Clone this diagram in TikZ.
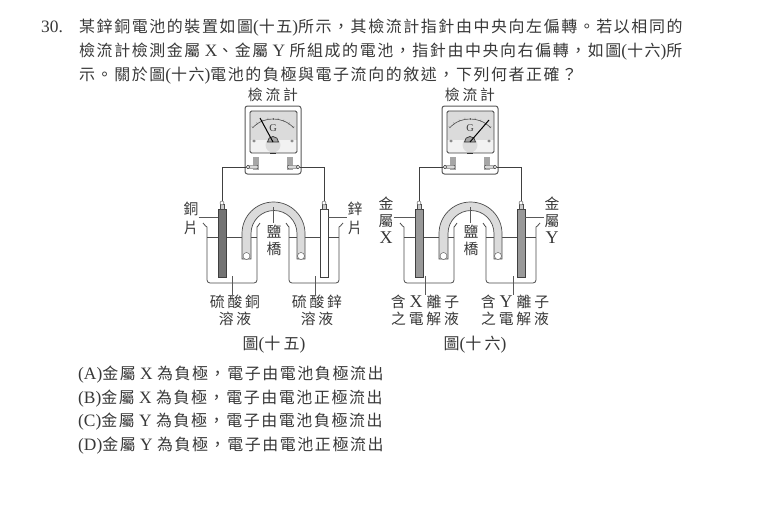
\documentclass[tikz,border=0pt]{standalone}
\usepackage{fontspec}
\usetikzlibrary{calc}
\setmainfont{Liberation Serif}[Scale=1.09]
\newfontfamily\cjf[LetterSpace=10]{Noto Sans CJK TC}
\newfontfamily\cjw[LetterSpace=19]{Noto Sans CJK TC}
\newcommand\cj[1]{{\cjf #1}}
\newcommand\cl[1]{{\cjw #1}}
\newcommand\biglat[1]{{\fontsize{16.5}{18}\selectfont #1}}
\colorlet{ink}{black!78}
\tikzset{
  x=1pt,y=1pt,
  line/.style={inner sep=0,anchor=base west,text=ink,font=\fontsize{15.95}{20}\selectfont},
  lab/.style={inner sep=0,text=ink,font=\fontsize{14.8}{18}\selectfont,align=center},
  wire/.style={draw=black!75,line width=.8pt},
  lead/.style={draw=black!65,line width=.6pt},
  glass/.style={draw=black!70,line width=.8pt},
  plate/.style={draw=black!75,line width=.8pt},
  tube/.style={draw=black!70,line width=.7pt,fill=black!14},
}
% #1 prefix, #2 xshift, #3 needle tip, #4 left plate fill, #5 right plate fill
\newcommand\apparatus[5]{%
\begin{scope}[xshift=#2pt]
  % beakers
  \draw[glass,rounded corners=3pt] (203,-223) to[out=-60,in=90] (207,-230) -- (207,-283) -- (257,-283) -- (257,-230) to[out=90,in=-120] (260,-223);
  \draw[glass,rounded corners=3pt] (286,-223) to[out=-60,in=90] (289,-230) -- (289,-283) -- (339,-283) -- (339,-230) to[out=90,in=-120] (343,-223);
  \draw[glass] (207,-237) -- (257,-237);
  \draw[glass] (289,-237) -- (339,-237);
  % plates
  \node[plate,fill=#4,minimum width=8pt,minimum height=68pt,inner sep=0,anchor=north] (#1pl) at (222,-209) {};
  \node[plate,fill=#5,minimum width=8pt,minimum height=68pt,inner sep=0,anchor=north] (#1pr) at (324,-209) {};
  \node[draw=black!70,fill=black!20,minimum width=4pt,minimum height=5pt,inner sep=0,anchor=south] (#1cl) at (222,-209) {};
  \node[draw=black!70,fill=black!20,minimum width=4pt,minimum height=5pt,inner sep=0,anchor=south] (#1cr) at (324,-209) {};
  \node[circle,draw=black!70,fill=white,minimum size=4pt,inner sep=0] (#1tl) at (222,-203) {};
  \node[circle,draw=black!70,fill=white,minimum size=4pt,inner sep=0] (#1tr) at (324,-203) {};
  % salt bridge
  \draw[tube] (242,-259) -- (242,-233.5) arc[start angle=180,end angle=0,radius=31.5] -- (305,-259) -- (297,-259) -- (297,-233.5) arc[start angle=0,end angle=180,radius=23] -- (251,-259) -- cycle;
  \node[circle,draw=black!70,fill=white,minimum size=7pt,inner sep=0] (#1bl) at (246.5,-256) {};
  \node[circle,draw=black!70,fill=white,minimum size=7pt,inner sep=0] (#1br) at (301,-256) {};
  % galvanometer
  \draw[draw=black!65,fill=white,line width=1pt,rounded corners=2.5pt] (245,-106) rectangle (301,-174);
  \fill[black!14] (250,-111) rectangle (297,-140);
  \fill[black!5] (250,-140) rectangle (297,-153);
  \fill[black!14] (273,-145) circle (7.5);
  \draw[draw=black!75,line width=.8pt,rounded corners=1.5pt] (250,-111) rectangle (297,-153);
  \draw[black!70,line width=.6pt] (252.5,-128) .. controls (259,-121) and (266,-119) .. (273,-119) .. controls (280,-119) and (287,-121) .. (294,-128);
  \foreach \a in {44,56,68,80,90,100,112,124,136}
    \draw[black!60,line width=.4pt] ($(273,-147)+(\a:27.5)$) -- ($(273,-147)+(\a:29.5)$);
  \fill[black!45] (254,-141) ellipse (1.8 and 1.5);
  \fill[black!45] (292,-141) ellipse (1.8 and 1.5);
  \draw[black!80,fill=black!35,line width=.7pt] (267.5,-142) arc[start angle=180,end angle=0,radius=5.5] -- cycle;
  \draw[black,line width=1pt] (273,-142) -- (#3);
  \node[inner sep=0,text=ink,font=\fontsize{9.5}{10}\selectfont] (#1g) at (273,-128) {G};
  \draw[black!80,line width=1pt] (270,-153) -- (276,-153);
  % terminals
  \fill[black!35] (253,-157) rectangle (259,-170);
  \fill[black!35] (287,-157) rectangle (293,-170);
  \node[draw=black!75,fill=black!15,rounded corners=1pt,minimum width=11pt,minimum height=3.5pt,inner sep=0] (#1ll) at (252.5,-167) {};
  \node[draw=black!75,fill=black!15,rounded corners=1pt,minimum width=11pt,minimum height=3.5pt,inner sep=0] (#1lr) at (293,-167) {};
  \node[circle,draw=black!75,fill=white,minimum size=3.5pt,inner sep=0] (#1ol) at (248,-167) {};
  \node[circle,draw=black!75,fill=white,minimum size=3.5pt,inner sep=0] (#1or) at (298,-167) {};
  % wires
  \draw[wire] (#1ol.west) -| (#1tl.north);
  \draw[wire] (#1or.east) -| (#1tr.north);
  % bridge leader
  \coordinate (#1lt) at (273.5,-207);
  \coordinate (#1lb) at (273.5,-223);
  \draw[lead] (#1lt) -- (#1lb);
\end{scope}}
\begin{document}
\begin{tikzpicture}
\useasboundingbox (0,0) rectangle (760,-514);
\fill[white] (0,0) rectangle (760,-514);
% question text
\node[line] (num) at (41,-32) {30.};
\node[line] (q1) at (79,-32) {\cj{某鋅銅電池的裝置如圖}(\cj{十五})\cj{所示，其檢流計指針由中央向左偏轉。若以相同的}};
\node[line] (q2) at (79,-56) {\cj{檢流計檢測金屬} X\cj{、金屬} Y \cj{所組成的電池，指針由中央向右偏轉，如圖}(\cj{十六})\cj{所}};
\node[line] (q3) at (79,-80) {\cj{示。關於圖}(\cj{十六})\cj{電池的負極與電子流向的敘述，下列何者正確？}};
% apparatus
\apparatus{a}{0}{260,-118}{black!55}{white}
\apparatus{b}{197}{292,-120}{black!40}{black!40}
% left labels
\node[lab] (ga) at (273,-95) {\cl{檢流計}};
\node[lab] (lcu) at (191,-218) {\cj{銅}\\[1pt]\cj{片}};
\node[lab] (lzn) at (355,-218) {\cj{鋅}\\[1pt]\cj{片}};
\draw[lead] (lcu.east |- 0,-217) -- (apl.west |- 0,-217);
\draw[lead] (apr.east |- 0,-217) -- (lzn.west |- 0,-217);
\node[lab] (sb1) at (274,-240.5) {\cj{鹽}\\[-1pt]\cj{橋}};
\node[lab] (s1) at (235,-310.5) {\cl{硫酸銅}\\[-1pt]\cl{溶液}};
\node[lab] (s2) at (317,-310.5) {\cl{硫酸鋅}\\[-1pt]\cl{溶液}};
\coordinate (s1t) at (232,-276);
\coordinate (s2t) at (315,-276);
\draw[lead] (s1t) -- (s1.north -| s1t);
\draw[lead] (s2t) -- (s2.north -| s2t);
\node[lab,font=\fontsize{16}{18}\selectfont] (f1) at (274,-345) {\cj{圖}(\cl{十五})};
% right labels
\node[lab] (gb) at (470,-95) {\cl{檢流計}};
\node[lab] (lx) at (386,-220.5) {\cj{金}\\[-1pt]\cj{屬}\\[-1pt]\biglat{X}};
\node[lab] (ly) at (552,-220.5) {\cj{金}\\[-1pt]\cj{屬}\\[-1pt]\biglat{Y}};
\draw[lead] (lx.east |- 0,-217) -- (bpl.west |- 0,-217);
\draw[lead] (bpr.east |- 0,-217) -- (ly.west |- 0,-217);
\node[lab] (sb2) at (471,-240.5) {\cj{鹽}\\[-1pt]\cj{橋}};
\node[lab] (s3) at (425,-310.5) {\cl{含} \biglat{X} \cl{離子}\\[-1pt]\cl{之電解液}};
\node[lab] (s4) at (515,-310.5) {\cl{含} \biglat{Y} \cl{離子}\\[-1pt]\cl{之電解液}};
\coordinate (s3t) at (425,-276);
\coordinate (s4t) at (513,-276);
\draw[lead] (s3t) -- (s3.north -| s3t);
\draw[lead] (s4t) -- (s4.north -| s4t);
\node[lab,font=\fontsize{16}{18}\selectfont] (f2) at (475,-345) {\cj{圖}(\cl{十六})};
% options
\node[line] (oa) at (78,-379) {(A)\cj{金屬} X \cj{為負極，電子由電池負極流出}};
\node[line] (ob) at (78,-403) {(B)\cj{金屬} X \cj{為負極，電子由電池正極流出}};
\node[line] (oc) at (78,-426) {(C)\cj{金屬} Y \cj{為負極，電子由電池負極流出}};
\node[line] (od) at (78,-450) {(D)\cj{金屬} Y \cj{為負極，電子由電池正極流出}};
\end{tikzpicture}
\end{document}
